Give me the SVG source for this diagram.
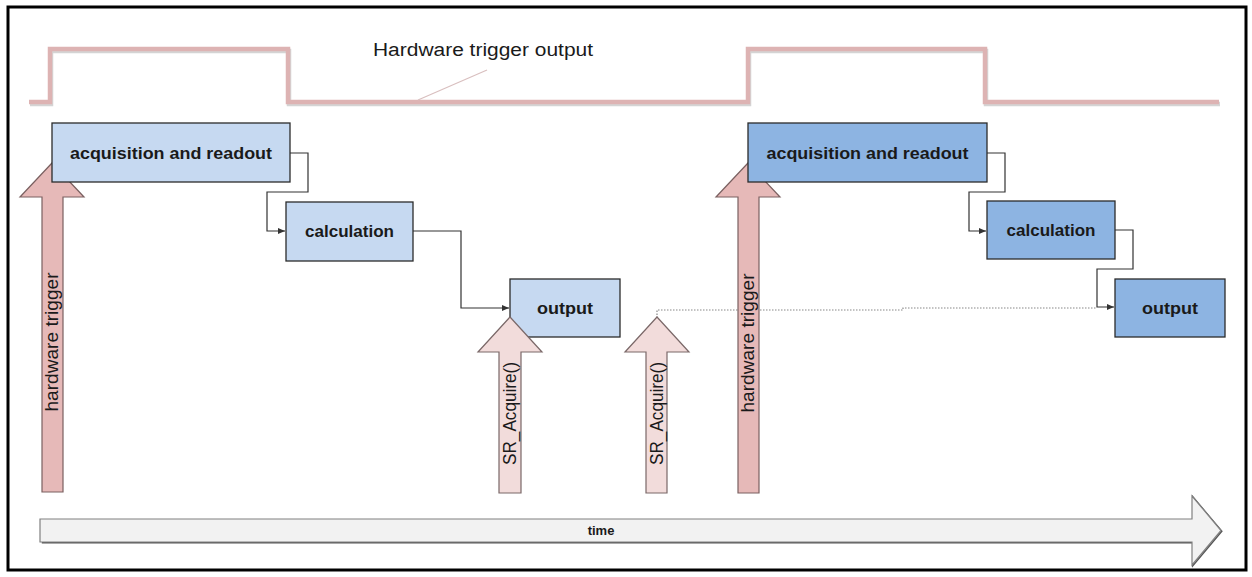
<svg xmlns="http://www.w3.org/2000/svg" width="1252" height="577" viewBox="0 0 1252 577">
<style>
.frame{fill:#fff;stroke:#000;stroke-width:3}
.pulse{fill:none;stroke:#DDB3B3;stroke-width:4.5;stroke-linejoin:miter}
.pulseshadow{fill:none;stroke:#d4d4d4;stroke-width:4.5}
.box1{fill:#C6D9F1;stroke:#2b2b2b;stroke-width:1.3}
.box2{fill:#8DB4E2;stroke:#2b2b2b;stroke-width:1.3}
.lbl{font-family:"Liberation Sans",Arial,sans-serif;font-weight:bold;font-size:17px;fill:#1a1a1a}
.conn{fill:none;stroke:#333;stroke-width:1.2}
.dot{fill:none;stroke:#888;stroke-width:1.2;stroke-dasharray:1.5 1.5}
.hw{fill:#E6B9B8;stroke:#7a6060;stroke-width:1.2}
.sr{fill:#F2DCDB;stroke:#7a6868;stroke-width:1.2}
.rot{font-family:"Liberation Sans",Arial,sans-serif;font-size:17.5px;fill:#1a1a1a}
.time{fill:#F2F2F2;stroke:#808080;stroke-width:1.2}
</style>
<defs>
<marker id="ah" markerWidth="8" markerHeight="8" refX="7" refY="4" orient="auto" markerUnits="userSpaceOnUse">
<path d="M0,1 L7,4 L0,7 Z" fill="#333"/>
</marker>
</defs>
<rect class="frame" x="8" y="7" width="1238" height="563"/>

<g id="pulse">
<polyline class="pulseshadow" points="30,104 51,104 51,51 289,51 289,104 749,104 749,51 986,51 986,104 1220,104"/>
<polyline class="pulse" points="29,102 50,102 50,49 288,49 288,102 748,102 748,49 985,49 985,102 1219,102"/>
<line x1="487" y1="70" x2="418" y2="100" stroke="#D9BFBF" stroke-width="1.2"/>
<text x="373" y="56" font-family="'Liberation Sans',Arial,sans-serif" font-size="18" fill="#1a1a1a" textLength="220" lengthAdjust="spacingAndGlyphs">Hardware trigger output</text>
</g>

<g id="connectors">
<polyline class="conn" points="290,153 308,153 308,192 267,192 267,231 285,231" marker-end="url(#ah)"/>
<polyline class="conn" points="413,231 461,231 461,308 509,308" marker-end="url(#ah)"/>
<polyline class="conn" points="987,153 1005,153 1005,192 969,192 969,231 986,231" marker-end="url(#ah)"/>
<polyline class="conn" points="1115,230 1133,230 1133,269 1097,269 1097,307 1114,307" marker-end="url(#ah)"/>
<polyline class="dot" points="657,318 657,310 903,310 903,308 1097,308"/>
</g>

<g id="time-arrow">
<path d="M41,520 L1192,520 L1192,496 L1221,530.5 L1192,565 L1192,542 L41,542" fill="none" stroke="#555" stroke-width="1.5" transform="translate(0.8,0.8)"/>
<path class="time" d="M40,519 L1192,519 L1192,496 L1221,530.5 L1192,565 L1192,542 L40,542 Z"/>
<text x="601" y="535" text-anchor="middle" font-family="'Liberation Sans',Arial,sans-serif" font-weight="bold" font-size="13" fill="#1a1a1a">time</text>
</g>

<g id="hw-trigger-1">
<path class="hw" d="M52,163 L84,197 L63,197 L63,492 L42,492 L42,197 L20,197 Z"/>
<text class="rot" transform="translate(58,342) rotate(-90)" text-anchor="middle" textLength="139" lengthAdjust="spacingAndGlyphs">hardware trigger</text>
</g>

<g id="box-acq-1">
<rect class="box1" x="52" y="123" width="238" height="59"/>
<text class="lbl" x="171" y="159" text-anchor="middle" textLength="202" lengthAdjust="spacingAndGlyphs">acquisition and readout</text>
</g>
<g id="box-calc-1">
<rect class="box1" x="286" y="202" width="127" height="59"/>
<text class="lbl" x="349.5" y="237" text-anchor="middle" textLength="89" lengthAdjust="spacingAndGlyphs">calculation</text>
</g>
<g id="box-out-1">
<rect class="box1" x="510" y="279" width="110" height="58"/>
<text class="lbl" x="565" y="314" text-anchor="middle" textLength="56" lengthAdjust="spacingAndGlyphs">output</text>
</g>

<g id="sr-acquire-1">
<path class="sr" d="M510,317 L542,352 L521,352 L521,493 L499,493 L499,352 L478,352 Z"/>
<text class="rot" transform="translate(516,413.5) rotate(-90)" text-anchor="middle" textLength="103" lengthAdjust="spacingAndGlyphs">SR_Acquire()</text>
</g>
<g id="sr-acquire-2">
<path class="sr" d="M657,317 L689,352 L667,352 L667,493 L646,493 L646,352 L625,352 Z"/>
<text class="rot" transform="translate(663,413.5) rotate(-90)" text-anchor="middle" textLength="103" lengthAdjust="spacingAndGlyphs">SR_Acquire()</text>
</g>

<g id="hw-trigger-2">
<path class="hw" d="M748,163 L780,197 L759,197 L759,493 L738,493 L738,197 L716,197 Z"/>
<text class="rot" transform="translate(754,343) rotate(-90)" text-anchor="middle" textLength="139" lengthAdjust="spacingAndGlyphs">hardware trigger</text>
</g>

<g id="box-acq-2">
<rect class="box2" x="748" y="123" width="239" height="59"/>
<text class="lbl" x="867.5" y="159" text-anchor="middle" textLength="202" lengthAdjust="spacingAndGlyphs">acquisition and readout</text>
</g>
<g id="box-calc-2">
<rect class="box2" x="987" y="201" width="128" height="58"/>
<text class="lbl" x="1051" y="236" text-anchor="middle" textLength="89" lengthAdjust="spacingAndGlyphs">calculation</text>
</g>
<g id="box-out-2">
<rect class="box2" x="1115" y="279" width="110" height="58"/>
<text class="lbl" x="1170" y="314" text-anchor="middle" textLength="56" lengthAdjust="spacingAndGlyphs">output</text>
</g>
</svg>
